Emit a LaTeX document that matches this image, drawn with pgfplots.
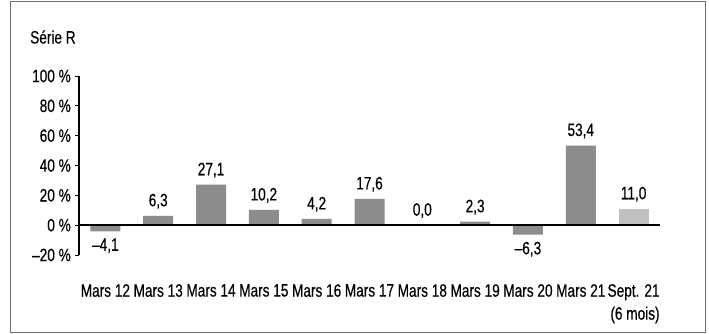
\documentclass[border=0pt]{standalone}
\usepackage{pgfplots}
\pgfplotsset{compat=1.18}
\usepackage{pgfplotstable}
\usepackage{fontspec}
\setmainfont{Liberation Sans}[FakeStretch=0.76, FakeBold=0.4]
\definecolor{barA}{RGB}{140,140,140}
\definecolor{barB}{RGB}{192,192,192}
\definecolor{framec}{RGB}{110,110,110}
\pgfplotstableread{
x y lab
1 6.3 6,3
2 27.1 27,1
3 10.2 10,2
4 4.2 4,2
5 17.6 17,6
6 0.0 0,0
7 2.3 2,3
9 53.4 53,4
}\dataA
\pgfplotstableread{
x y lab
0 -4.1 --4,1
8 -6.3 --6,3
}\dataN
\pgfplotstableread{
x y lab
10 11.0 11,0
}\dataB
\begin{document}
\fontsize{18}{23}\selectfont
\begin{tikzpicture}[x=1bp,y=1bp]
\useasboundingbox (-79,-78) rectangle (630,255);
\draw[framec, line width=1bp] (-68,-77) rectangle (626,254);
\node[anchor=west, inner sep=0] at (-49,218) {Série R};
\begin{axis}[at={(0,0)}, anchor=south west, scale only axis,
  width=581bp, height=179bp,
  xmin=-0.5, xmax=10.5, ymin=-20, ymax=100,
  axis lines*=left,
  x axis line style={draw=none},
  y axis line style={line width=1.3bp},
  xtick={0,...,10},
  xticklabels={Mars 12,Mars 13,Mars 14,Mars 15,Mars 16,Mars 17,Mars 18,Mars 19,Mars 20,Mars 21,{Sept. 21\\(6 mois)}},
  xticklabel style={align=right, inner sep=0pt, yshift=-25bp},
  major x tick style={draw=none},
  ytick={-20,0,20,40,60,80,100},
  yticklabels={--20 \%,0 \%,20 \%,40 \%,60 \%,80 \%,100 \%},
  yticklabel style={inner sep=0pt, xshift=-4bp},
  tick align=outside,
  major tick length=4bp,
  major y tick style={black, line width=1bp},
  ybar, bar width=30bp, bar shift=0pt,
  point meta=explicit symbolic,
  nodes near coords={\pgfplotspointmeta},
  every node near coord/.append style={inner sep=7bp, black},
  clip=false,
]
\addplot[fill=barA, draw=none, nodes near coords align={above}] table[x=x, y=y, meta=lab] {\dataA};
\addplot[fill=barA, draw=none, nodes near coords align={below}] table[x=x, y=y, meta=lab] {\dataN};
\addplot[fill=barB, draw=none, nodes near coords align={above}] table[x=x, y=y, meta=lab] {\dataB};
\draw[black, line width=1.6bp] (axis cs:-0.5,0) -- (axis cs:10.5,0);
\end{axis}
\end{tikzpicture}
\end{document}
